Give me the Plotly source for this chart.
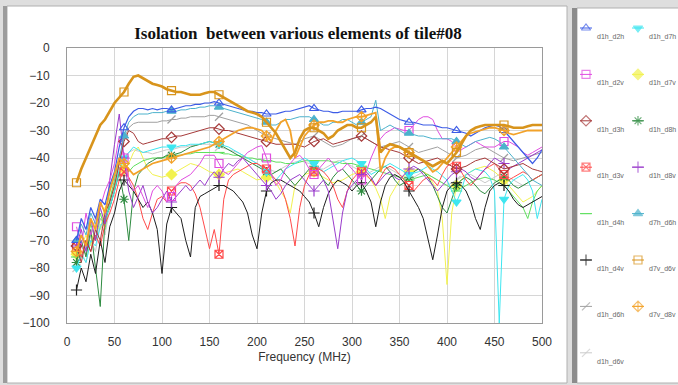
import plotly.graph_objects as go

# ---------------- data (dB vs MHz, 5 MHz grid 10..500) ----------------
freq = list(range(10, 505, 5))

d1h_d2h = [-70, -62, -66, -58, -62, -55, -57, -50, -45, -36,
           -29, -25, -23, -22, -22, -22.5, -22, -22.5, -22, -22,
           -22.5, -22, -21.5, -21, -21, -20.5, -20.5, -20, -20, -19.5,
           -20, -20.5, -21, -21.5, -22, -22.5, -23, -23, -23.5, -23.5,
           -24, -24, -24, -23.5, -23, -23, -22.5, -22, -21.5, -21,
           -22, -22.5, -23, -23, -23.5, -23.5, -23, -23, -23, -23,
           -22.5, -22, -22, -21.5, -22, -23, -24, -25, -26, -26.5,
           -27, -27, -27.5, -28, -28, -28, -28.5, -29, -29, -29.5,
           -30, -30.5, -31, -32, -31, -30, -29, -28.5, -28, -28.5,
           -30, -32, -34, -36, -38, -40, -42, -40, -37]

d1h_d7h = [-80, -75, -78, -70, -72, -65, -62, -58, -52, -44,
           -40, -38, -36, -37, -38, -37.5, -37, -36.5, -36, -36,
           -36, -36, -35.5, -35.5, -35, -35, -35, -34.5, -34, -34.5,
           -35, -35.5, -36, -37, -38, -39, -40, -41, -42, -43.5,
           -45, -46.5, -48, -46, -44, -43, -42, -41, -40, -41,
           -42, -43.5, -45, -44, -43, -42, -41, -40.5, -40, -41,
           -42, -44, -46, -45, -44, -43, -42, -43, -44, -45,
           -46, -45.5, -45, -44, -43, -44, -45, -46.5, -48, -52,
           -56, -52, -46, -45, -44, -44.5, -45, -47, -52, -100,
           -55, -50, -48, -47, -46, -48, -52, -62, -55]

d1h_d2v = [-65, -72, -60, -68, -62, -58, -52, -48, -42, -32,
           -40, -48, -52, -50, -54, -58, -52, -50, -52, -56,
           -54, -50, -48, -47, -46, -44, -42, -39, -39, -39,
           -42, -45, -46, -44, -42, -40, -38, -37, -36, -35.5,
           -40, -46, -50, -48, -44, -42, -40, -39, -41, -44,
           -46, -44, -42, -40, -42, -45, -44, -42, -44, -46,
           -48, -45, -40, -36, -33, -31, -30, -29, -29.5, -30,
           -30, -28, -26, -25, -25, -26, -30, -33, -33, -34,
           -36, -37, -36, -35, -34, -35, -36, -36, -36, -35,
           -34, -34, -35, -36, -38, -39, -38, -37, -36]

d1h_d7v = [-75, -72, -68, -72, -64, -66, -58, -55, -50, -45,
           -44, -42, -38, -36, -40, -44, -46, -46.5, -47, -46.5,
           -46, -45, -44, -43, -42, -42.5, -43, -44, -45, -45.5,
           -46, -45.5, -45, -44.5, -44, -45, -46, -47, -48, -47.5,
           -47, -48, -49, -52, -55, -60, -50, -48, -46, -45.5,
           -45, -46, -47, -48, -49, -48.5, -48, -47, -46, -45.5,
           -45, -46.5, -48, -51, -55, -62, -54, -51, -48, -46.5,
           -45, -44.5, -44, -45, -46, -49, -52, -62, -86, -60,
           -50, -48, -46, -45, -44, -43.5, -43, -44, -45, -46.5,
           -48, -50, -52, -54, -56, -55, -54, -52, -50]

d1h_d3h = [-72, -78, -70, -74, -66, -70, -60, -56, -50, -42,
           -34, -30, -31, -34, -35, -34.5, -34, -33.5, -33, -33,
           -32.5, -32, -32, -31.5, -31, -30.5, -30, -29.5, -29, -29,
           -29.5, -30, -30, -30.5, -31, -31.5, -32, -32.5, -33, -33.5,
           -34, -34.5, -35, -35, -35, -35, -35, -35.5, -36, -35,
           -34, -33.5, -33, -34, -35, -34.5, -34, -33.5, -33, -32.5,
           -32, -33, -34, -35, -36, -36.5, -37, -37.5, -38, -39,
           -40, -41, -42, -41.5, -41, -40.5, -40, -41, -42, -43,
           -44, -43.5, -43, -42, -41, -40.5, -40, -41, -42, -43,
           -44, -43.5, -43, -42.5, -42, -43, -44, -44.5, -45]

d1h_d8h = [-78, -70, -76, -66, -80, -94, -62, -58, -52, -45,
           -55, -70, -52, -46, -44, -42, -41, -40, -40, -39,
           -39, -38.5, -38, -37, -36, -35.5, -35, -34.5, -34, -34.5,
           -35, -36, -37, -38, -39, -40, -41, -42, -43, -44,
           -45, -46, -45, -44, -46, -48, -50, -48, -46, -44,
           -43, -45, -48, -50, -47, -45, -44, -46, -48, -50,
           -52, -50, -48, -46, -44, -43, -45, -48, -50, -49,
           -47, -45, -44, -45, -47, -50, -54, -58, -60, -55,
           -50, -48, -47, -48, -50, -52, -53, -51, -49, -48,
           -47, -48, -50, -51, -50, -49, -48, -47, -46]

d1h_d3v = [-72, -76, -70, -74, -68, -72, -64, -60, -55, -48,
           -45, -47, -50, -55, -62, -66, -60, -55, -54, -56,
           -52, -50, -49, -49, -50, -53, -58, -65, -73, -66,
           -75, -55, -48, -46, -45, -44, -43, -42, -42, -43,
           -44, -46, -48, -50, -55, -62, -72, -58, -50, -46,
           -45, -44, -45, -47, -50, -55, -58, -52, -48, -46,
           -45, -46, -48, -50, -47, -44, -43, -44, -46, -48,
           -50, -52, -50, -48, -47, -48, -50, -46, -43, -42,
           -43, -45, -48, -50, -48, -46, -44, -43, -42, -44,
           -46, -48, -47, -46, -45, -46, -48, -47, -46]

d1h_d8v = [-72, -66, -74, -62, -70, -58, -64, -48, -35, -24,
           -40, -52, -58, -54, -50, -56, -60, -58, -55, -52,
           -56, -54, -52, -50, -52, -50, -48, -50, -47, -45,
           -47, -44, -42, -43, -41, -40, -42, -44, -46, -48,
           -50, -52, -55, -53, -50, -48, -47, -46, -48, -50,
           -52, -50, -48, -52, -62, -73, -60, -52, -50, -48,
           -46, -45, -47, -50, -48, -46, -45, -47, -48, -46,
           -44, -43, -44, -46, -48, -50, -52, -50, -48, -46,
           -45, -44, -45, -47, -48, -46, -44, -42, -40, -41,
           -42, -44, -43, -42, -41, -40, -39, -38, -37]

d1h_d4h = [-76, -68, -72, -64, -70, -60, -66, -55, -48, -40,
           -42, -45, -43, -42, -41, -40.5, -40, -40, -40, -39.5,
           -39.5, -39, -39, -38.5, -38.5, -38, -38, -38, -38, -38,
           -38, -38.5, -38.5, -39, -39, -39.5, -40, -40, -40.5, -40.5,
           -41, -41, -41.5, -41.5, -42, -42, -42, -41.5, -41, -41,
           -41, -41, -41, -41, -41.5, -41.5, -42, -42, -42, -42.5,
           -43, -43.5, -44, -44.5, -45, -45.5, -46, -46.5, -47, -47.5,
           -48, -47.5, -47, -46.5, -46, -47, -48, -49, -50, -51,
           -52, -51, -50, -49, -48, -47.5, -47, -47.5, -48, -49,
           -50, -52, -54, -56, -58, -62, -56, -52, -50]

d7h_d6h = [-70, -64, -68, -60, -64, -56, -60, -52, -46, -40,
           -32, -27, -25, -24, -24, -24, -23.5, -23.5, -23.5, -23,
           -23, -23, -22.5, -22.5, -22, -22, -21.5, -21.5, -21, -21,
           -21.5, -22, -22.5, -23, -23.5, -24, -24.5, -25, -25.5, -26,
           -27, -28, -28, -27, -26, -26, -25.5, -25, -25, -25,
           -26, -27, -28, -28, -27, -27, -26, -26, -27, -28,
           -27, -26, -25, -19, -30, -29, -28, -29, -30, -31,
           -31, -31.5, -32, -32, -32.5, -33, -33, -33, -33, -33,
           -34, -35, -36, -35, -34, -33.5, -33, -32.5, -33, -34,
           -36, -38, -40, -42, -44, -46, -48, -49, -50]

d1h_d4v = [-88, -80, -85, -75, -82, -70, -78, -65, -60, -52,
           -48, -50, -52, -55, -58, -56, -60, -66, -82, -64,
           -58, -60, -62, -70, -76, -58, -54, -53, -52, -51,
           -50, -50, -51, -52, -54, -56, -60, -68, -73, -60,
           -52, -49, -48, -48, -49, -50, -51, -52, -54, -56,
           -60, -65, -58, -53, -50, -48, -49, -50, -52, -50,
           -49, -52, -56, -65, -56, -50, -47, -46, -47, -49,
           -52, -55, -58, -62, -70, -77, -68, -58, -52, -50,
           -49, -50, -52, -56, -62, -66, -58, -52, -50, -49,
           -50, -52, -55, -57, -58, -57, -56, -55, -54]

d7v_d6v = [-49, -44, -40, -36, -32, -28, -26, -23, -20, -18,
           -16, -13, -10.5, -10, -11, -12, -13, -13.5, -14, -15,
           -15.5, -16, -16, -16.5, -17, -17, -17, -16.5, -16, -16,
           -17, -18, -19, -20, -21, -22, -23, -23.5, -24, -25,
           -27, -29, -31, -34, -37, -40, -38, -33, -30, -29,
           -29, -30, -31, -33, -32, -30, -29, -28, -28, -29,
           -29, -28, -27, -25, -38, -36, -35, -35.5, -36, -37,
           -38, -39, -40, -41, -42, -43, -42, -41, -42, -40,
           -38, -35, -32, -30, -29, -28.5, -28, -28, -28, -28,
           -28, -28.5, -29, -29, -29, -28.5, -28, -28, -28]

d1h_d6h = [-78, -72, -75, -68, -70, -62, -64, -56, -50, -42,
           -33, -29, -27.5, -27, -27, -27, -27, -27, -26.5, -26.5,
           -26, -26, -25.5, -25.5, -25, -25, -25, -25, -24.5, -24.5,
           -25, -25.5, -26, -26.5, -27, -27.5, -28, -29, -30, -31,
           -32, -32.5, -33, -33.5, -34, -34.5, -35, -34, -33, -32.5,
           -32, -33, -34, -35, -36, -35.5, -35, -34, -33, -32.5,
           -32, -33, -34, -35, -36, -35.5, -35, -34.5, -34, -35,
           -36, -37, -38, -37.5, -37, -36.5, -36, -37, -38, -39,
           -40, -39.5, -39, -38, -37, -36.5, -36, -37, -38, -39,
           -40, -40.5, -41, -40.5, -40, -39.5, -39, -38.5, -38]

d7v_d8v = [-74, -68, -72, -62, -66, -56, -60, -52, -46, -40,
           -42, -44, -46, -45, -44, -43, -42, -41.5, -41, -40.5,
           -40, -39.5, -39, -38.5, -38, -37.5, -37, -36.5, -36, -35,
           -34, -33, -32, -31, -30, -29.5, -29, -29, -29.5, -30,
           -32, -34, -30, -27, -26, -30, -40, -36, -32, -30,
           -28, -27, -27, -26.5, -26.5, -27, -27, -26, -25.5, -25,
           -25, -24.5, -24, -23.5, -45, -40, -37, -36, -36, -37,
           -38, -39, -40, -41, -43, -45, -44, -42, -40, -38,
           -36, -34, -32, -31, -30.5, -30, -29.5, -29, -29, -29.5,
           -30, -31, -31.5, -31, -30.5, -30, -30, -30, -30]

d1h_d6v = [-80, -74, -78, -70, -74, -64, -68, -58, -52, -46,
           -40, -38, -37, -37.5, -38, -38, -38.5, -38, -37.5, -37,
           -37, -36.5, -36, -36, -35.5, -35.5, -35, -35, -35, -35.5,
           -36, -36.5, -37, -37.5, -38, -39, -40, -41, -42, -43,
           -44, -44.5, -45, -44, -43, -42, -41.5, -41, -41.5, -42,
           -43, -44, -44, -43, -42, -41, -41, -42, -43, -44,
           -45, -46, -45, -44, -43, -43, -44, -45, -46, -47,
           -48, -47, -46, -45, -46, -47, -48, -49, -50, -49,
           -48, -47, -46, -46, -47, -48, -49, -48, -47, -46,
           -46, -47, -48, -49, -50, -49, -48, -47, -46]

x_ticks = [0, 50, 100, 150, 200, 250, 300, 350, 400, 450, 500]
y_ticks = [0, -10, -20, -30, -40, -50, -60, -70, -80, -90, -100]

# name, values, color, marker symbol, line width
series = [
    ("d1h_d2h", d1h_d2h, "#3d5ce6", "triangle-up-open", 1.2),
    ("d1h_d2v", d1h_d2v, "#e04ce0", "square-open", 1.0),
    ("d1h_d3h", d1h_d3h, "#a63a3a", "diamond-open", 1.0),
    ("d1h_d3v", d1h_d3v, "#ff4a4a", "square-x-open", 1.0),
    ("d1h_d4h", d1h_d4h, "#5fe05f", "line-ew-open", 1.0),
    ("d1h_d4v", d1h_d4v, "#1e1e1e", "cross-thin-open", 1.0),
    ("d1h_d6h", d1h_d6h, "#a0a0a0", "line-ne-open", 1.0),
    ("d1h_d6v", d1h_d6v, "#cacaca", "line-ne-open", 1.0),
    ("d1h_d7h", d1h_d7h, "#3ee6f0", "triangle-down", 1.0),
    ("d1h_d7v", d1h_d7v, "#f2f24e", "diamond", 1.0),
    ("d1h_d8h", d1h_d8h, "#2e8b40", "asterisk-open", 1.0),
    ("d1h_d8v", d1h_d8v, "#9a3ccc", "cross-thin-open", 1.0),
    ("d7h_d6h", d7h_d6h, "#4cb2cc", "triangle-up", 1.0),
    ("d7v_d6v", d7v_d6v, "#d8941c", "square-open", 2.6),
    ("d7v_d8v", d7v_d8v, "#f2a22a", "diamond-cross-open", 1.8),
]

draw_order = ["d1h_d6v", "d1h_d6h", "d1h_d7v", "d1h_d4h", "d1h_d8h", "d1h_d7h",
              "d1h_d3v", "d1h_d4v", "d1h_d8v", "d1h_d2v", "d1h_d3h", "d7h_d6h",
              "d1h_d2h", "d7v_d8v", "d7v_d6v"]
lookup = {s[0]: s for s in series}

# ---------------- layout geometry (pixels) ----------------
W, H = 678, 385
L, R, T, B = 67, 542, 48, 323

fig = go.Figure()
for nm in draw_order:
    name, vals, color, sym, w = lookup[nm]
    fig.add_trace(go.Scatter(x=freq, y=vals, mode="lines", name=name,
                             line=dict(color=color, width=w), showlegend=False,
                             hoverinfo="skip"))
    fig.add_trace(go.Scatter(x=freq[::10], y=vals[::10], mode="markers",
                             marker=dict(symbol=sym, color=color, size=8,
                                         line=dict(color=color, width=1.2)),
                             showlegend=False, hoverinfo="skip"))

# custom legend in a full-page pixel-unit overlay subplot (x2/y2)
row_gap = 46.4
for k, s in enumerate(series):
    name, vals, color, sym, w = s
    col, row = divmod(k, 8)
    mx = 586 + col * 52
    my = 28 + row * row_gap
    fig.add_trace(go.Scatter(x=[mx - 6, mx, mx + 6], y=[my, my, my], xaxis="x2", yaxis="y2",
                             mode="lines+markers",
                             line=dict(color=color, width=1),
                             marker=dict(symbol=sym, color=color, size=[0, 8, 0],
                                         line=dict(color=color, width=1.2)),
                             showlegend=False, hoverinfo="skip"))
    fig.add_annotation(x=595 + col * 52, y=my + 9, xref="x2", yref="y2",
                       text=name, showarrow=False, xanchor="left", yanchor="middle",
                       font=dict(family="Liberation Sans, Arial", size=7, color="#666666"))

shapes = [
    # chart panel
    dict(type="rect", xref="paper", yref="paper", x0=7 / W, x1=567 / W, y0=1 - 383 / H, y1=1 - 6 / H,
         fillcolor="white", line=dict(color="#b0b0b0", width=1), layer="below"),
    dict(type="rect", xref="paper", yref="paper", x0=3 / W, x1=7 / W, y0=1 - 383 / H, y1=1 - 6 / H,
         fillcolor="#9c9c9c", line=dict(width=0), layer="below"),
    # legend panel
    dict(type="rect", xref="paper", yref="paper", x0=577 / W, x1=679 / W, y0=1 - 383 / H, y1=1 - 8 / H,
         fillcolor="white", line=dict(color="#b0b0b0", width=1), layer="below"),
    dict(type="rect", xref="paper", yref="paper", x0=572 / W, x1=577 / W, y0=1 - 383 / H, y1=1 - 8 / H,
         fillcolor="#8c8c8c", line=dict(width=0), layer="below"),
    # plot area background
    dict(type="rect", xref="paper", yref="paper", x0=L / W, x1=R / W, y0=1 - B / H, y1=1 - T / H,
         fillcolor="white", line=dict(width=0), layer="below"),
]

axis_font = dict(family="Liberation Sans, Arial", size=12, color="#333333")

fig.update_layout(
    width=W, height=H,
    margin=dict(l=0, r=0, t=0, b=0, autoexpand=False),
    paper_bgcolor="#dedede",
    plot_bgcolor="rgba(0,0,0,0)",
    shapes=shapes,
    title=dict(text="Isolation\u00a0 between various elements of tile#08",
               x=298 / W, xref="container", xanchor="center",
               y=1 - 33 / H, yref="container", yanchor="middle",
               font=dict(family="Liberation Serif, Times New Roman", size=17, color="#111111",
                         weight="bold")),
    xaxis=dict(domain=[L / W, R / W], anchor="y", range=[0, 500], tickvals=x_ticks,
               showgrid=True, gridcolor="#d6d6d6",
               zeroline=False, showline=True, linecolor="#9a9a9a", mirror=True,
               ticks="outside", ticklen=8, tickcolor="rgba(0,0,0,0)", tickfont=axis_font,
               title=dict(text="Frequency (MHz)", standoff=4, font=axis_font)),
    yaxis=dict(domain=[1 - B / H, 1 - T / H], anchor="x", range=[-100, 0], tickvals=y_ticks,
               showgrid=True, gridcolor="#d6d6d6",
               zeroline=False, showline=True, linecolor="#9a9a9a", mirror=True,
               ticks="outside", ticklen=14, tickcolor="rgba(0,0,0,0)", tickfont=axis_font),
    xaxis2=dict(domain=[0, 1], range=[0, W], visible=False, anchor="y2", fixedrange=True),
    yaxis2=dict(domain=[0, 1], range=[H, 0], visible=False, anchor="x2", fixedrange=True),
    showlegend=False,
)

fig.write_html("out.html")
